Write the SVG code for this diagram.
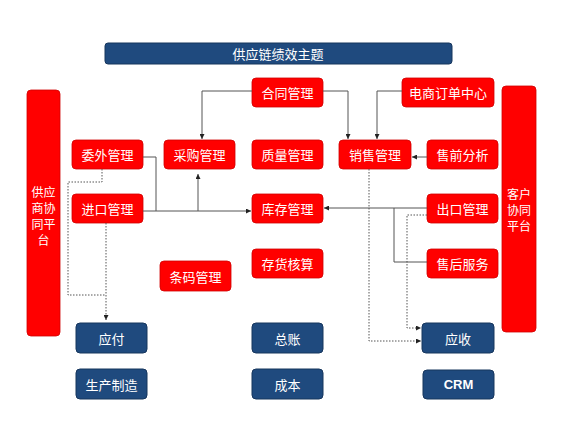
<svg xmlns="http://www.w3.org/2000/svg" width="585" height="422" viewBox="0 0 585 422">
<defs>
<style>
.r{fill:#FF0000;stroke:#D00000;stroke-width:0.8}
.b{fill:#1F4A7E;stroke:#17365D;stroke-width:1}
.t{font-family:"Noto Sans CJK SC","Liberation Sans",sans-serif;font-size:13px;fill:#FFFFFF;text-anchor:middle;dominant-baseline:central}
.s{font-size:12px}
.ln{fill:none;stroke:#555555;stroke-width:1}
.dt{fill:none;stroke:#555555;stroke-width:1;stroke-dasharray:1.5 1.5}
</style>
<marker id="ah" viewBox="0 0 6 6" refX="6" refY="3" markerWidth="5" markerHeight="5" orient="auto"><path d="M0,0 L6,3 L0,6 z" fill="#222"/></marker>
</defs>
<rect width="585" height="422" fill="#FFFFFF"/>
<g id="title"><rect x="105" y="43" width="347" height="21" rx="3" fill="#1F4A7E" stroke="#17365D"/><text class="t" x="278" y="53.5">供应链绩效主题</text></g>
<g id="supplier"><rect class="r" x="27" y="90" width="33" height="246" rx="4"/>
<text class="t s" x="43.5" y="191">供应</text><text class="t s" x="43.5" y="207">商协</text><text class="t s" x="43.5" y="223">同平</text><text class="t s" x="43.5" y="239">台</text></g>
<g id="customer"><rect class="r" x="502" y="86" width="34" height="246" rx="4"/>
<text class="t s" x="519" y="193">客户</text><text class="t s" x="519" y="209">协同</text><text class="t s" x="519" y="225">平台</text></g>
<g id="n_hetong"><rect class="r" x="252" y="78" width="71" height="29" rx="4"/><text class="t" x="287.5" y="92.5">合同管理</text></g>
<g id="n_dianshang"><rect class="r" x="402" y="78" width="92" height="29" rx="4"/><text class="t" x="448" y="92.5">电商订单中心</text></g>
<g id="n_weiwai"><rect class="r" x="72" y="140" width="71" height="29" rx="4"/><text class="t" x="107.5" y="154.5">委外管理</text></g>
<g id="n_caigou"><rect class="r" x="164" y="140" width="71" height="29" rx="4"/><text class="t" x="199.5" y="154.5">采购管理</text></g>
<g id="n_zhiliang"><rect class="r" x="252" y="140" width="71" height="29" rx="4"/><text class="t" x="287.5" y="154.5">质量管理</text></g>
<g id="n_xiaoshou"><rect class="r" x="339" y="140" width="72" height="29" rx="4"/><text class="t" x="375" y="154.5">销售管理</text></g>
<g id="n_shouqian"><rect class="r" x="427" y="140" width="71" height="29" rx="4"/><text class="t" x="462.5" y="154.5">售前分析</text></g>
<g id="n_jinkou"><rect class="r" x="72" y="194" width="71" height="29" rx="4"/><text class="t" x="107.5" y="208.5">进口管理</text></g>
<g id="n_kucun"><rect class="r" x="252" y="194" width="71" height="29" rx="4"/><text class="t" x="287.5" y="208.5">库存管理</text></g>
<g id="n_chukou"><rect class="r" x="427" y="194" width="71" height="29" rx="4"/><text class="t" x="462.5" y="208.5">出口管理</text></g>
<g id="n_cunhuo"><rect class="r" x="252" y="249" width="71" height="29" rx="4"/><text class="t" x="287.5" y="263.5">存货核算</text></g>
<g id="n_shouhou"><rect class="r" x="427" y="249" width="71" height="29" rx="4"/><text class="t" x="462.5" y="263.5">售后服务</text></g>
<g id="n_tiaoma"><rect class="r" x="160" y="261" width="71" height="30" rx="4"/><text class="t" x="195.5" y="276">条码管理</text></g>
<g id="n_yingfu"><rect class="b" x="76" y="323" width="71" height="30" rx="4"/><text class="t" x="111.5" y="338">应付</text></g>
<g id="n_shengchan"><rect class="b" x="76" y="369" width="71" height="30" rx="4"/><text class="t" x="111.5" y="384">生产制造</text></g>
<g id="n_zongzhang"><rect class="b" x="252" y="323" width="71" height="30" rx="4"/><text class="t" x="287.5" y="338">总账</text></g>
<g id="n_chengben"><rect class="b" x="252" y="369" width="71" height="30" rx="4"/><text class="t" x="287.5" y="384">成本</text></g>
<g id="n_yingshou"><rect class="b" x="422" y="323" width="72" height="30" rx="4"/><text class="t" x="458" y="338">应收</text></g>
<g id="n_crm"><rect class="b" x="423" y="370" width="71" height="29" rx="4"/><text class="t" x="458.5" y="384.5" style="font-family:'Liberation Sans',sans-serif;font-weight:bold">CRM</text></g>
<g id="connectors">
<path class="ln" d="M252,91 H202 V139" marker-end="url(#ah)"/>
<path class="ln" d="M323,91 H348 V139" marker-end="url(#ah)"/>
<path class="ln" d="M402,91 H377 V139" marker-end="url(#ah)"/>
<path class="ln" d="M427,157 H412" marker-end="url(#ah)"/>
<path class="ln" d="M143,157 H156 V211"/>
<path class="ln" d="M143,211 H251" marker-end="url(#ah)"/>
<path class="ln" d="M198,211 V174" marker-end="url(#ah)"/>
<path class="ln" d="M427,208 H324" marker-end="url(#ah)"/>
<path class="ln" d="M427,262 H394 V208"/>
<path class="dt" d="M369,169 V341 H421" marker-end="url(#ah)"/>
<path class="dt" d="M427,215 H407 V328 H421" marker-end="url(#ah)"/>
<path class="dt" d="M102,169 V182 H68 V295 H106"/>
<path class="dt" d="M106,223 V320" marker-end="url(#ah)"/>
</g>
</svg>
